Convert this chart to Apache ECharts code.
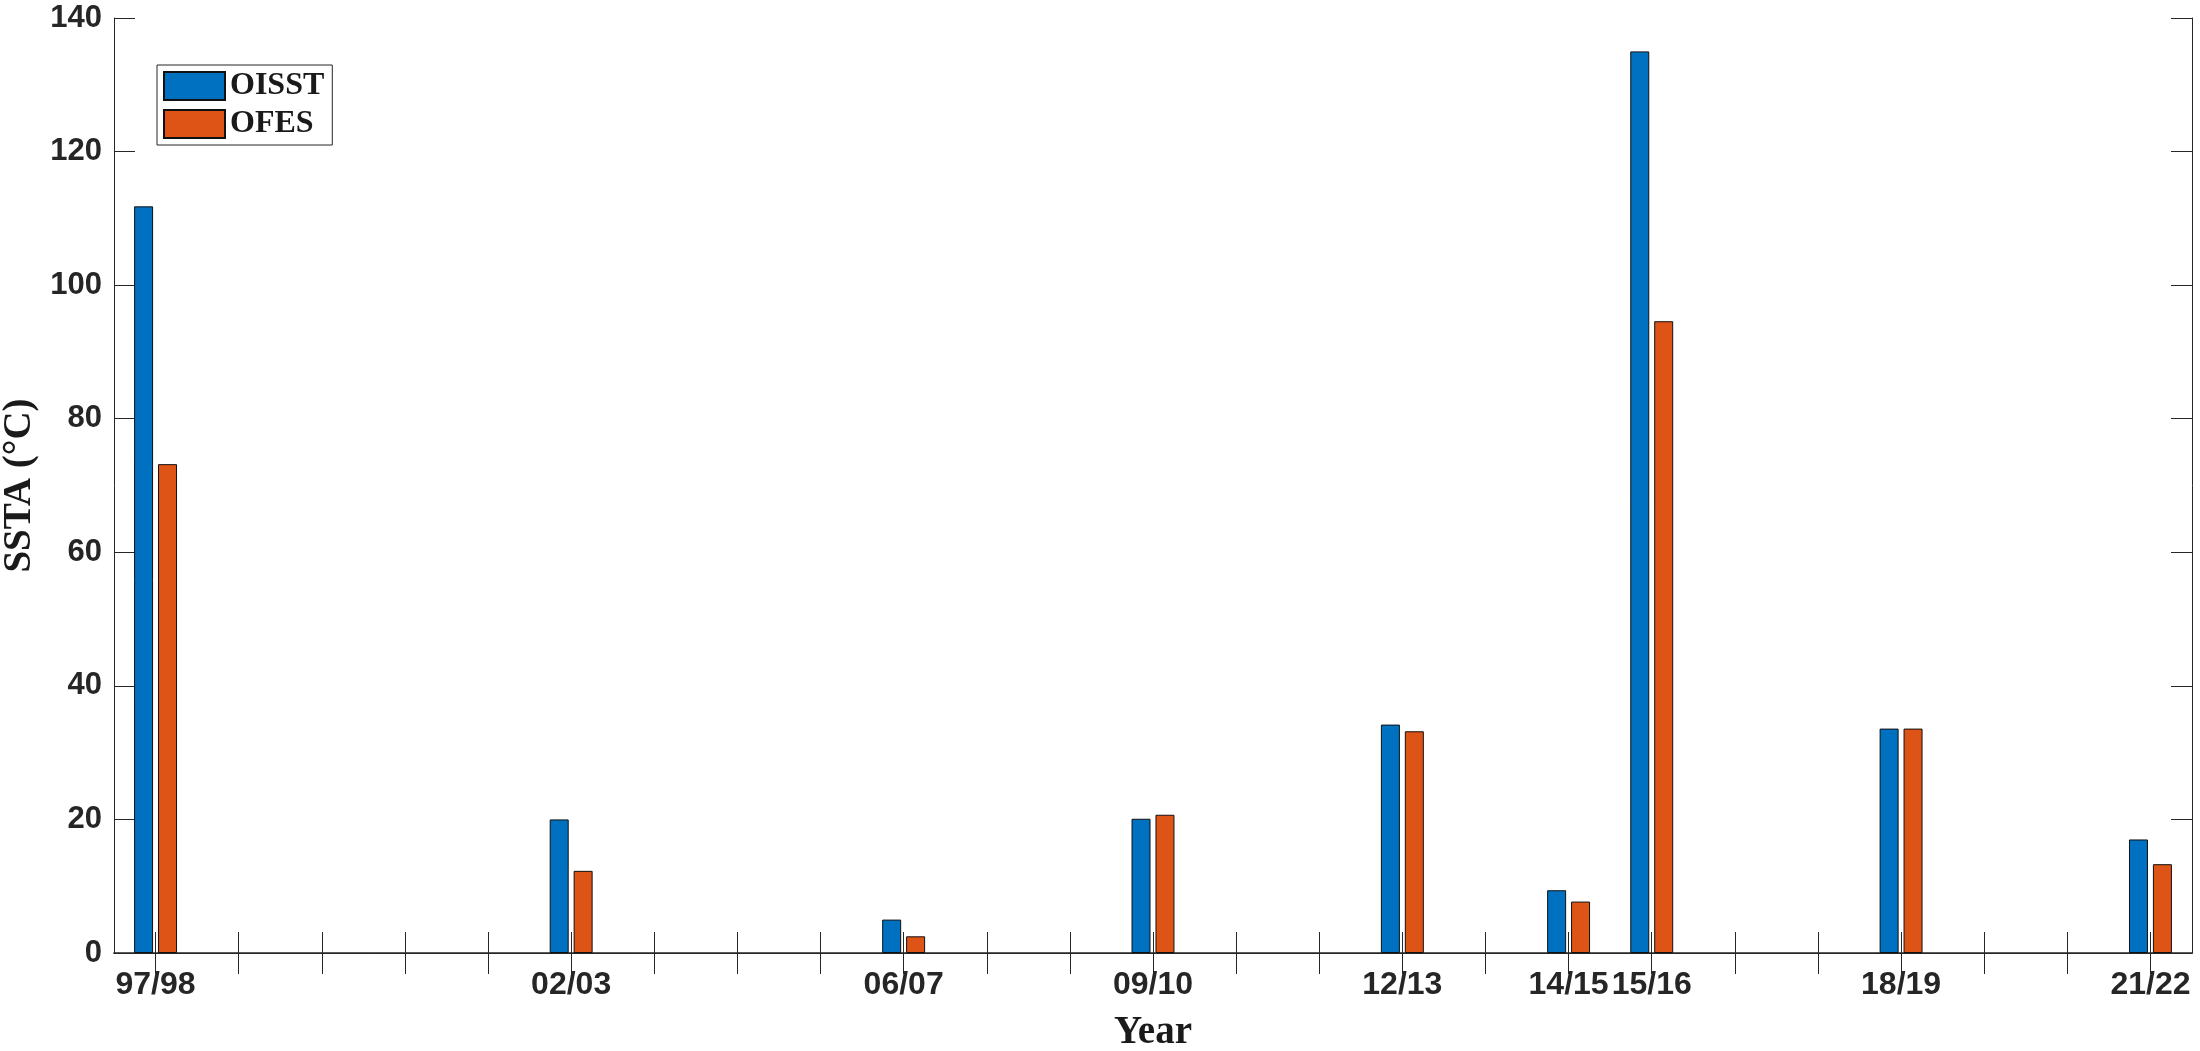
<!DOCTYPE html>
<html>
<head>
<meta charset="utf-8">
<script src="https://cdn.jsdelivr.net/npm/echarts@6/dist/echarts.min.js"></script>
<style>
html,body{margin:0;padding:0;background:#fff;}
#chart{width:2200px;height:1051px;}
</style>
</head>
<body>
<div id="chart"></div>
<script>
// ---- data ----
const firstYear = 1997;
const lastYear = 2021;
const eventYears = [1997, 2002, 2006, 2009, 2012, 2014, 2015, 2018, 2021];
const eventLabels = ['97/98', '02/03', '06/07', '09/10', '12/13', '14/15', '15/16', '18/19', '21/22'];
const oisstValues = [111.8, 20.0, 5.0, 20.1, 34.2, 9.4, 135.0, 33.6, 17.0];
const ofesValues = [73.2, 12.3, 2.5, 20.7, 33.2, 7.7, 94.6, 33.6, 13.3];
const yTicks = [0, 20, 40, 60, 80, 100, 120, 140];

// ---- build category table ----
const years = [];
for (let y = firstYear; y <= lastYear; y++) years.push(String(y));
const labelMap = {};
eventYears.forEach((y, i) => { labelMap[String(y)] = eventLabels[i]; });
function seriesFor(vals) {
  return years.map(y => {
    const idx = eventYears.indexOf(Number(y));
    return idx >= 0 ? vals[idx] : null;
  });
}

const axisColor = '#262626';
const tickFont = { fontFamily: 'Liberation Sans', fontWeight: 'bold', color: axisColor };
const nameFont = { fontFamily: 'Liberation Serif', fontWeight: 'bold', color: '#1a1a1a' };

const chart = echarts.init(document.getElementById('chart'), null, { renderer: 'canvas' });
chart.setOption({
  animation: false,
  backgroundColor: '#ffffff',
  grid: { left: 114, right: 8, top: 18, bottom: 98, containLabel: false, outerBoundsMode: 'none' },
  legend: {
    orient: 'vertical',
    left: 157,
    top: 65,
    padding: [5, 8, 5, 6],
    itemGap: 6,
    itemWidth: 61,
    itemHeight: 28,
    borderColor: axisColor,
    borderWidth: 1,
    backgroundColor: '#ffffff',
    icon: 'rect',
    textStyle: Object.assign({ fontSize: 32 }, nameFont),
    data: ['OISST', 'OFES']
  },
  xAxis: [
    {
      type: 'category',
      position: 'bottom',
      data: years,
      boundaryGap: true,
      axisLine: { show: true, lineStyle: { color: axisColor, width: 1.5 } },
      axisTick: { show: true, inside: true, length: 21, alignWithLabel: true, interval: 0, lineStyle: { color: axisColor, width: 1 } },
      axisLabel: Object.assign({
        show: true, interval: 0, fontSize: 32, margin: 16,
        formatter: v => labelMap[v] || ''
      }, tickFont),
      splitLine: { show: false },
      name: 'Year',
      nameLocation: 'middle',
      nameGap: 60,
      nameTextStyle: Object.assign({ fontSize: 39 }, nameFont)
    },
    {
      type: 'category',
      position: 'top',
      data: years,
      boundaryGap: true,
      axisLine: { show: true, lineStyle: { color: axisColor, width: 1 } },
      axisTick: { show: true, inside: true, length: 21, alignWithLabel: true, interval: 0, lineStyle: { color: axisColor, width: 1 } },
      axisLabel: { show: false },
      splitLine: { show: false }
    }
  ],
  yAxis: [
    {
      type: 'value',
      position: 'left',
      min: yTicks[0],
      max: yTicks[yTicks.length - 1],
      interval: yTicks[1] - yTicks[0],
      axisLine: { show: true, lineStyle: { color: axisColor, width: 1 } },
      axisTick: { show: true, inside: true, length: 21, lineStyle: { color: axisColor, width: 1 } },
      axisLabel: Object.assign({ fontSize: 31, margin: 12 }, tickFont),
      splitLine: { show: false },
      name: 'SSTA (°C)',
      nameLocation: 'middle',
      nameRotate: 90,
      nameGap: 65,
      nameTextStyle: Object.assign({ fontSize: 39 }, nameFont)
    },
    {
      type: 'value',
      position: 'right',
      min: yTicks[0],
      max: yTicks[yTicks.length - 1],
      interval: yTicks[1] - yTicks[0],
      axisLine: { show: true, lineStyle: { color: axisColor, width: 1 } },
      axisTick: { show: true, inside: true, length: 21, lineStyle: { color: axisColor, width: 1 } },
      axisLabel: { show: false },
      splitLine: { show: false }
    }
  ],
  series: [
    {
      name: 'OISST',
      type: 'bar',
      xAxisIndex: 0,
      yAxisIndex: 0,
      barWidth: 19,
      barGap: '26%',
      data: seriesFor(oisstValues),
      itemStyle: { color: '#0070C0', borderColor: '#111111', borderWidth: 1 }
    },
    {
      name: 'OFES',
      type: 'bar',
      xAxisIndex: 0,
      yAxisIndex: 0,
      barWidth: 19,
      barGap: '26%',
      data: seriesFor(ofesValues),
      itemStyle: { color: '#DE5316', borderColor: '#111111', borderWidth: 1 }
    }
  ]
});
</script>
</body>
</html>
